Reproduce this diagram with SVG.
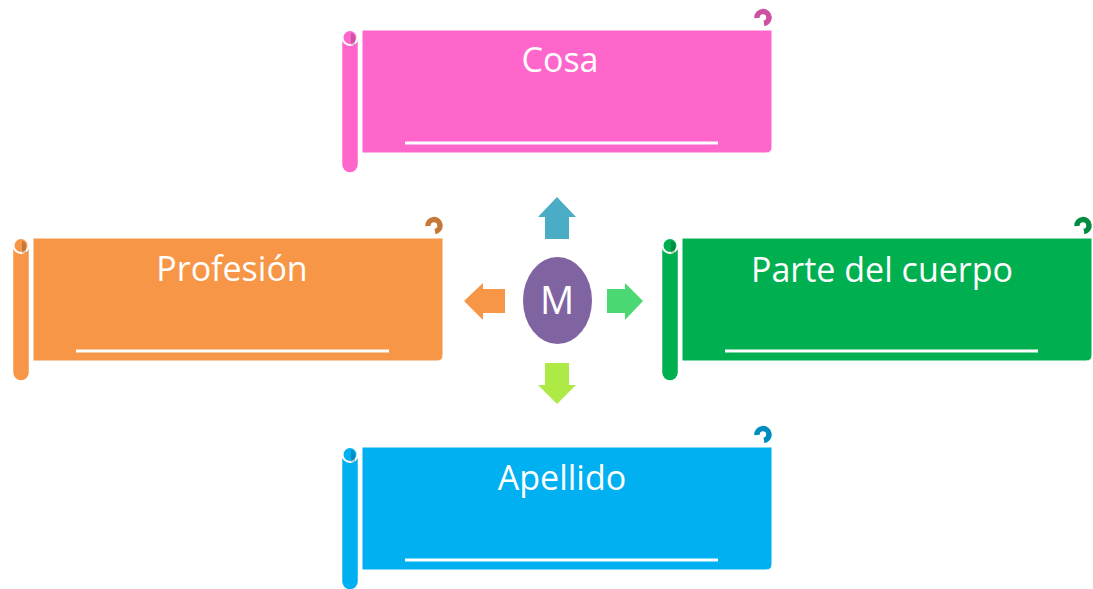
<svg xmlns="http://www.w3.org/2000/svg" xmlns:xlink="http://www.w3.org/1999/xlink" width="1093" height="589" viewBox="0 0 1093 589">
<style>
.lbl{font-family:"Open Sans","Liberation Sans",sans-serif;font-size:34px;fill:#fff;text-anchor:middle}
.m{font-family:"Open Sans","Liberation Sans",sans-serif;font-size:38px;fill:#fff;text-anchor:middle}
.shade{fill:#000;fill-opacity:.2}
</style>
<defs>
<g id="scroll">
<path d="M0 0 H410 V117 Q410 123 404 123 H0 Z" fill="currentColor" stroke="#fff" stroke-width="1"/>
<rect x="-20.5" y="2" width="17" height="141" rx="8.5" fill="currentColor" stroke="#fff" stroke-width="1.5"/>
<circle cx="-12" cy="7.5" r="7.5" fill="currentColor" stroke="#fff" stroke-width="2"/>
<path d="M-11 3 A4.5 4.5 0 0 1 -7 8 V15 H-11 Z" class="shade"/>
<path d="M395 -12 A6 6 0 1 1 402 -6.5" fill="none" stroke="currentColor" stroke-width="5.5"/>
<path d="M395 -12 A6 6 0 1 1 402 -6.5" fill="none" stroke="#000" stroke-opacity=".2" stroke-width="5.5"/>
<line x1="43" y1="113" x2="356" y2="113" stroke="#fff" stroke-width="2.8"/>
</g>
</defs>
<rect width="1093" height="589" fill="#fff"/>
<g id="connectors">
<polygon points="557,197 576,217 569,217 569,239 545,239 545,217 538,217" fill="#4BACC6"/>
<polygon points="464,301 483,283 483,289 505,289 505,313 483,313 483,320" fill="#F79646"/>
<polygon points="643,301 625,283 625,289 607,289 607,313 625,313 625,320" fill="#4AD872"/>
<polygon points="557,404 576,385 569,385 569,363 545,363 545,385 538,385" fill="#AEEA45"/>
</g>
<g id="node-m">
<ellipse cx="557.5" cy="300.5" rx="34.5" ry="43.5" fill="#8064A2"/>
<text class="m" x="557" y="314">M</text>
</g>
<g id="node-cosa" transform="translate(362,30)" style="color:#FF66CC">
<use xlink:href="#scroll"/>
<text class="lbl" x="198" y="42">Cosa</text>
</g>
<g id="node-profesion" transform="translate(33,238)" style="color:#F79646">
<use xlink:href="#scroll"/>
<text class="lbl" x="199" y="43">Profesión</text>
</g>
<g id="node-parte" transform="translate(682,238)" style="color:#00B050">
<use xlink:href="#scroll"/>
<text class="lbl" x="200" y="44">Parte del cuerpo</text>
</g>
<g id="node-apellido" transform="translate(362,447)" style="color:#00B0F0">
<use xlink:href="#scroll"/>
<text class="lbl" x="200" y="43">Apellido</text>
</g>
</svg>
